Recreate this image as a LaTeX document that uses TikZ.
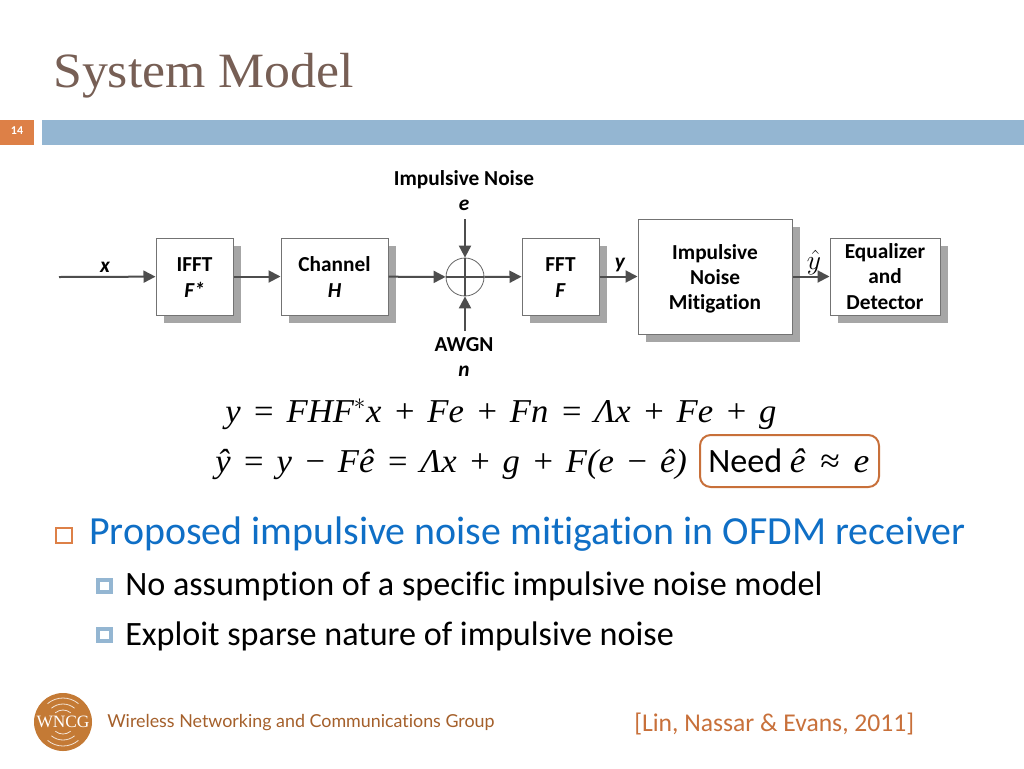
\documentclass[tikz,border=0pt]{standalone}
\usepackage{fontspec}
\setmainfont{Carlito}[Ligatures=CommonOff]
\newfontfamily\titlefont{Liberation Serif}[FakeStretch=1.05]
\newfontfamily\logofont{Liberation Serif}
\newfontfamily\footfont{Lato}[Ligatures=CommonOff]
\newfontfamily\eqfont{Liberation Serif}[WordSpace=1.3,FakeStretch=1.04]
\usetikzlibrary{arrows.meta,shadows}
\definecolor{headblue}{HTML}{94B6D2}
\definecolor{headorange}{HTML}{DD8047}
\definecolor{titlebrown}{HTML}{775F55}
\definecolor{bodyblue}{HTML}{0F6FC6}
\definecolor{logo}{HTML}{C47A35}
\definecolor{footbrown}{HTML}{A5602B}
\definecolor{cite}{HTML}{C8703A}
\definecolor{arrowgray}{HTML}{4D4D4D}
\newcommand{\pxfont}[2]{\fontsize{#1}{#2}\selectfont}
\newcommand{\topstrut}{\rule{0pt}{17.5pt}}
\tikzset{
  x=0.75pt,y=-0.75pt,
  blockbox/.style={draw=black!55,line width=0.75pt,fill=white,align=center,
    font=\bfseries\pxfont{16}{19},inner sep=0pt,
    drop shadow={shadow xshift=6pt,shadow yshift=-6pt,fill=black!35,opacity=1}},
  flow/.style={draw=arrowgray,line width=1.5pt,-{Triangle[length=9pt,width=9pt]},shorten >=0pt},
  lab/.style={font=\bfseries\pxfont{16}{19},inner sep=0pt,align=center},
  ilab/.style={font=\bfseries\itshape\pxfont{16}{19},inner sep=0pt},
  eq/.style={font=\eqfont\itshape\pxfont{25}{30},anchor=base west,inner sep=0pt},
  bodytext/.style={anchor=base west,inner sep=0pt},
}
\begin{document}
\begin{tikzpicture}
\useasboundingbox[fill=white] (0,0) rectangle (1024,768);
% header
\node[anchor=base west,inner sep=0pt,text=titlebrown,font=\titlefont\pxfont{37}{42}] (title) at (53,87) {System Model};
\fill[headorange] (0,120) rectangle (34,145);
\fill[headblue] (42,120) rectangle (1024,145);
\node[text=white,font=\bfseries\pxfont{9}{11},inner sep=0pt] (pg) at (17,131) {14};
% blocks
\node[blockbox,minimum width=57.75pt,minimum height=57.75pt] (ifft) at (194.5,276.5) {\topstrut IFFT\\\strut\textit{F*}};
\node[blockbox,minimum width=80.25pt,minimum height=57.75pt] (chan) at (334.5,276.5) {\topstrut Channel\\\strut\textit{H}};
\node[blockbox,minimum width=57.75pt,minimum height=57.75pt] (fft) at (560.5,276.5) {\topstrut FFT\\\strut\textit{F}};
\node[blockbox,minimum width=115.5pt,minimum height=86.25pt] (imp) at (715,276.5) {\topstrut Impulsive\\Noise\\\strut Mitigation};
\node[blockbox,minimum width=82.5pt,minimum height=57.75pt] (eqd) at (885,276.5) {Equalizer\\and\\Detector};
\node[circle,draw=black!60,line width=0.6pt,minimum size=28.5pt,inner sep=0pt] (sum) at (465,277) {};
% free ends
\coordinate (xin) at (59,277);
\coordinate (ein) at (465,219);
\coordinate (nin) at (465,331);
% connectors
\draw[flow] (xin) -- (ifft);
\draw[flow] (ifft) -- (chan);
\draw[flow] (chan) -- (sum);
\draw[flow] (sum) -- (fft);
\draw[flow] (fft) -- (imp);
\draw[flow] (imp) -- (eqd);
\draw[flow] (ein) -- (sum);
\draw[flow] (nin) -- (sum);
\draw[arrowgray,line width=1.2pt] (sum.west) -- (sum.east);
\draw[arrowgray,line width=0.8pt] (sum.north) -- (sum.south);
% labels
\node[lab] (il) at (464,180) {Impulsive Noise};
\node[ilab] (el) at (464,205) {e};
\node[lab] (al) at (464,345) {AWGN};
\node[ilab] (nl) at (464,371) {n};
\node[ilab] (xl) at (105,267) {x};
\node[ilab] (yl) at (620,265) {y};
\node[inner sep=0pt,font=\pxfont{20}{24}] (yh) at (814,263) {$\hat{y}$};
% equations
\node[eq] (eq1) at (225,422) {y = FHF$^{*}$x + Fe + Fn = Λx + Fe + g};
\node[eq] (eq2) at (215,472) {ŷ = y − Fê = Λx + g + F(e − ê)};
\node[draw=cite,line width=1.5pt,rounded corners=8pt,minimum width=134.25pt,minimum height=39pt,inner sep=0pt] (need) at (789.5,461) {};
\node[bodytext,font=\pxfont{25.6}{30}] (nt) at (708,472) {Need {\eqfont\itshape ê\hspace{2pt} ≈\hspace{2pt} e}};
% bullets
\draw[headorange,line width=1pt] (56,528) rectangle (72,543);
\node[bodytext,text=bodyblue,font=\pxfont{29.9}{34}] (b1) at (89,544) {Proposed impulsive noise mitigation in OFDM receiver};
\draw[headblue,line width=3pt,fill=white] (98,580) rectangle (111,592);
\node[bodytext,font=\pxfont{25.6}{30}] (b2) at (125,595) {No assumption of a specific impulsive noise model};
\draw[headblue,line width=3pt,fill=white] (98,629) rectangle (111,641);
\node[bodytext,font=\pxfont{25.6}{30}] (b3) at (125,645) {Exploit sparse nature of impulsive noise};
% footer
\fill[logo] (63,722) circle[radius=29];
\foreach \r in {12,18,24}{
  \draw[white,line width=0.6pt,opacity=.8] (63,722) ++(50:\r) arc[start angle=50,end angle=130,radius=\r];
  \draw[white,line width=0.6pt,opacity=.8] (63,722) ++(-50:\r) arc[start angle=-50,end angle=-130,radius=\r];
}
\node[text=white,font=\logofont\pxfont{13}{15},inner sep=0pt,fill=logo] (wn) at (63,722) {WNCG};
\node[bodytext,text=footbrown,font=\footfont\pxfont{13.4}{16}] (ft) at (107,727) {Wireless Networking and Communications Group};
\node[bodytext,text=cite,font=\pxfont{19.2}{22}] (ct) at (634,731) {[Lin, Nassar \& Evans, 2011]};
\end{tikzpicture}
\end{document}
